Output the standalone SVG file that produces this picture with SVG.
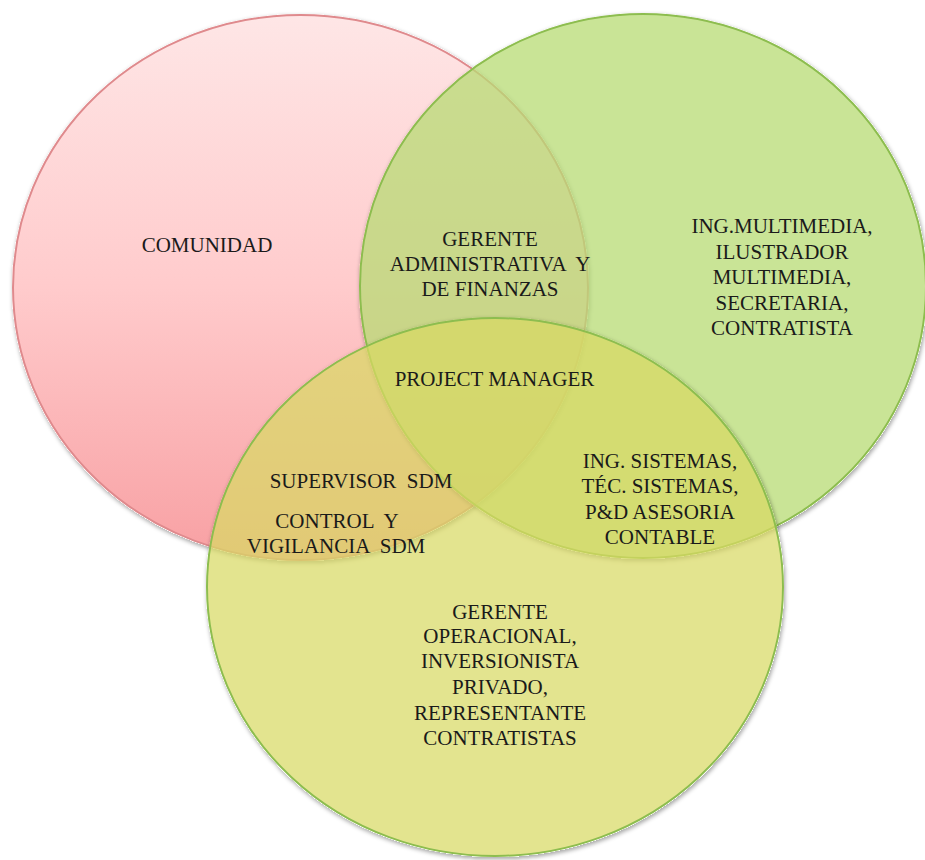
<svg xmlns="http://www.w3.org/2000/svg" width="925" height="860" viewBox="0 0 925 860">
  <defs>
    <linearGradient id="redFill" x1="0" y1="0" x2="0" y2="1">
      <stop offset="0" stop-color="#fee6e6"/>
      <stop offset="0.5" stop-color="#ffcbcc"/>
      <stop offset="1" stop-color="#f8a0a3"/>
    </linearGradient>
    <!-- soft shadow kept outside the shape so translucent overlaps stay clean -->
    <filter id="shade" x="-5%" y="-5%" width="110%" height="112%">
      <feComponentTransfer in="SourceAlpha" result="solid">
        <feFuncA type="linear" slope="20"/>
      </feComponentTransfer>
      <feGaussianBlur in="solid" stdDeviation="2" result="blur"/>
      <feOffset in="blur" dx="1" dy="2" result="off"/>
      <feComposite in="off" in2="solid" operator="out" result="outer"/>
      <feColorMatrix in="outer" type="matrix" values="0 0 0 0 0  0 0 0 0 0  0 0 0 0 0  0 0 0 0.35 0" result="sh"/>
      <feMerge>
        <feMergeNode in="sh"/>
        <feMergeNode in="SourceGraphic"/>
      </feMerge>
    </filter>
  </defs>
  <style>
    .set { stroke-width: 2; filter: url(#shade); }
    .red { fill: url(#redFill); stroke: #df8a8d; }
    .green { fill: #b7db74; fill-opacity: 0.75; stroke: #8dbd4f; }
    .yellow { fill: #d8d963; fill-opacity: 0.72; stroke: #8dbd4f; }
    text { font-family: "Liberation Serif", "Times New Roman", serif; font-size: 21px; fill: #1a1a1a; text-anchor: middle; white-space: pre; }
  </style>

  <rect width="925" height="860" fill="#ffffff"/>

  <!-- the three sets -->
  <g id="set-comunidad">
    <ellipse class="set red" cx="300.5" cy="287.5" rx="287.5" ry="272.5"/>
  </g>
  <g id="set-equipo-tecnico">
    <ellipse class="set green" cx="643" cy="286" rx="283" ry="272"/>
  </g>
  <g id="set-operaciones">
    <ellipse class="set yellow" cx="495" cy="587" rx="288" ry="269"/>
  </g>

  <g id="connectors"/>

  <!-- region labels -->
  <g id="label-comunidad">
    <text x="207" y="251.5">COMUNIDAD</text>
  </g>
  <g id="label-gerente-administrativa">
    <text x="490" y="245.5">GERENTE</text>
    <text x="490" y="270.8">ADMINISTRATIVA  Y</text>
    <text x="490" y="296">DE FINANZAS</text>
  </g>
  <g id="label-multimedia">
    <text x="782" y="233">ING.MULTIMEDIA,</text>
    <text x="782" y="258.5">ILUSTRADOR</text>
    <text x="782" y="284">MULTIMEDIA,</text>
    <text x="782" y="309.5">SECRETARIA,</text>
    <text x="782" y="335">CONTRATISTA</text>
  </g>
  <g id="label-project-manager">
    <text x="494.5" y="386">PROJECT MANAGER</text>
  </g>
  <g id="label-supervisor">
    <text x="361" y="488.3">SUPERVISOR  SDM</text>
  </g>
  <g id="label-control">
    <text x="337" y="528.3">CONTROL  Y</text>
    <text x="336" y="553.3">VIGILANCIA  SDM</text>
  </g>
  <g id="label-sistemas">
    <text x="660" y="468.3">ING. SISTEMAS,</text>
    <text x="660" y="493">TÉC. SISTEMAS,</text>
    <text x="660" y="518.5">P&amp;D ASESORIA</text>
    <text x="660" y="544">CONTABLE</text>
  </g>
  <g id="label-operacional">
    <text x="500" y="619.3">GERENTE</text>
    <text x="500" y="643">OPERACIONAL,</text>
    <text x="500" y="668.3">INVERSIONISTA</text>
    <text x="500" y="693.5">PRIVADO,</text>
    <text x="500" y="719.5">REPRESENTANTE</text>
    <text x="500" y="745">CONTRATISTAS</text>
  </g>
</svg>
